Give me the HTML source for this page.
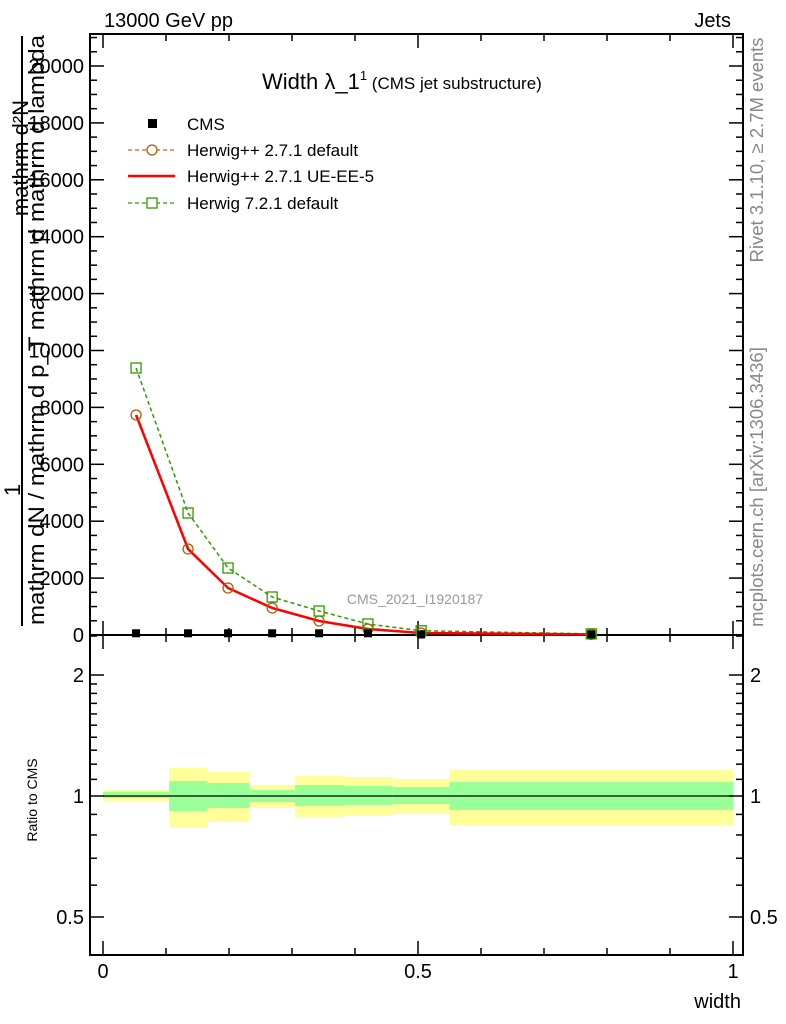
<!DOCTYPE html>
<html><head><meta charset="utf-8"><style>
body{margin:0;background:#fff;}
svg{display:block;font-family:"Liberation Sans",sans-serif;}
</style></head><body>
<svg id="c" width="786" height="1024" viewBox="0 0 786 1024">
<text x="104" y="27" font-size="20">13000 GeV pp</text>
<text x="731" y="27" font-size="20" text-anchor="end">Jets</text>
<text x="262" y="89" font-size="22">Width λ_1<tspan font-size="13" dy="-9">1</tspan><tspan font-size="17" dy="9"> (CMS jet substructure)</tspan></text>
<text x="415" y="604" font-size="14" fill="#999" text-anchor="middle">CMS_2021_I1920187</text>
<text transform="translate(763,150) rotate(-90)" font-size="18.5" fill="#888" text-anchor="middle">Rivet 3.1.10, ≥ 2.7M events</text>
<text transform="translate(763,487) rotate(-90)" font-size="18.5" fill="#888" text-anchor="middle">mcplots.cern.ch [arXiv:1306.3436]</text>
<g font-size="22">
<text transform="translate(28,158) rotate(-90)" text-anchor="middle">mathrm d²N</text>
<text transform="translate(20,490) rotate(-90)" text-anchor="middle">1</text>
<line x1="22" y1="36" x2="22" y2="626" stroke="#000" stroke-width="2"/>
<text transform="translate(44,330) rotate(-90)" text-anchor="middle" textLength="590" lengthAdjust="spacingAndGlyphs">mathrm dN / mathrm d p_T mathrm d mathrm d lambda</text>
</g>
<text transform="translate(37,800) rotate(-90)" font-size="14" text-anchor="middle">Ratio to CMS</text>
<text x="741" y="1008" font-size="20" text-anchor="end">width</text>
<g id="g"></g>
</svg>
<script>
const edges=[0,0.105,0.165,0.232,0.305,0.381,0.46,0.55,1.0];
const cms=[60,60,60,60,60,60,20,20];
const herwigDefault=[7733,3023,1652,949,492,211,70,20];
const herwigUE=[7733,3023,1652,949,492,211,70,20];
const herwig721=[9385,4288,2355,1336,844,387,150,40];
const yellowHi=[1.035,1.174,1.147,1.065,1.121,1.115,1.102,1.16];
const yellowLo=[0.972,0.837,0.862,0.939,0.887,0.892,0.902,0.847];
const greenHi=[1.023,1.09,1.077,1.035,1.065,1.059,1.053,1.083];
const greenLo=[0.989,0.918,0.934,0.966,0.944,0.950,0.955,0.923];
const yTicks=[0,2000,4000,6000,8000,10000,12000,14000,16000,18000,20000];
const rTicks=[0.5,1,2];
const xTicks=[0,0.5,1];

const NS="http://www.w3.org/2000/svg";
const g=document.getElementById('g');
const L=90,R=743,T=34,B=635,RB=955;
const X=v=>103+630*v;
const Y=v=>635-v*0.028450;
const RY=r=>796-121*Math.log2(r);
function mk(t,a,p){const e=document.createElementNS(NS,t);for(const k in a)e.setAttribute(k,a[k]);(p||g).appendChild(e);return e;}
const mids=edges.slice(0,-1).map((e,i)=>(e+edges[i+1])/2);

for(let i=0;i<mids.length;i++){
 const y=mk('rect',{x:X(edges[i]),y:RY(yellowHi[i]),width:X(edges[i+1])-X(edges[i]),height:RY(yellowLo[i])-RY(yellowHi[i]),fill:'#ffff99'});
 
 
 const gr=mk('rect',{x:X(edges[i]),y:RY(greenHi[i]),width:X(edges[i+1])-X(edges[i]),height:RY(greenLo[i])-RY(greenHi[i]),fill:'#99ff99'});
 
 
}
const rl=mk('line',{x1:X(edges[0]),x2:X(edges[edges.length-1]),y1:RY(1),y2:RY(1),stroke:'#000','stroke-width':1.2});



mk('rect',{x:L,y:T,width:R-L,height:B-T,fill:'none',stroke:'#000','stroke-width':2});
mk('rect',{x:L,y:B,width:R-L,height:RB-B,fill:'none',stroke:'#000','stroke-width':2});

for(let v=0;v<=21000;v+=500){const y=Y(v);if(y<T)break;const len=v%2000===0?14:7;
 mk('line',{x1:L,x2:L+len,y1:y,y2:y,stroke:'#000','stroke-width':1.5});
 mk('line',{x1:R,x2:R-len,y1:y,y2:y,stroke:'#000','stroke-width':1.5});}
yTicks.forEach(v=>{const t=mk('text',{x:84,y:Y(v)+7,'font-size':20,'text-anchor':'end'});t.textContent=v;
 
 });
[0.4,0.5,0.6,0.7,0.8,0.9,1,1.1,1.2,1.3,1.4,1.5,1.6,1.7,1.8,1.9,2,2.5].forEach(r=>{const y=RY(r);if(y<B||y>RB)return;const len=rTicks.includes(r)?14:7;
 mk('line',{x1:L,x2:L+len,y1:y,y2:y,stroke:'#000','stroke-width':1.5});
 mk('line',{x1:R,x2:R-len,y1:y,y2:y,stroke:'#000','stroke-width':1.5});});
rTicks.forEach(r=>{const t=mk('text',{x:84,y:RY(r)+7,'font-size':20,'text-anchor':'end'});t.textContent=r;
 
 
 const t2=mk('text',{x:750,y:RY(r)+7,'font-size':20});t2.textContent=r;
 
 });
for(let k=0;k<=10;k++){const v=k/10;const x=X(v);const len=k%5===0?14:7;
 [[B,-1],[T,1],[B,1],[RB,-1]].forEach(([y0,d])=>mk('line',{x1:x,x2:x,y1:y0,y2:y0+d*len,stroke:'#000','stroke-width':1.5}));}
xTicks.forEach(v=>{const t=mk('text',{x:X(v),y:978,'font-size':20,'text-anchor':'middle'});t.textContent=v;
 
 });

function line(vals,attrs,name){const p=mk('polyline',Object.assign({points:vals.map((v,i)=>X(mids[i])+','+Y(v)).join(' '),fill:'none'},attrs));
 
 }
line(herwig721,{stroke:'#339900','stroke-width':1.5,'stroke-dasharray':'4,3'},'herwig721-line');
line(herwigDefault,{stroke:'#cc6600','stroke-width':1.3,'stroke-dasharray':'4,3'},'herwigpp-default-line');
line(herwigUE,{stroke:'#ff0000','stroke-width':2.5},'herwigpp-ueee5-line');
herwigDefault.forEach((v,i)=>{const c=mk('circle',{cx:X(mids[i]),cy:Y(v),r:5,fill:'none',stroke:'#b35900','stroke-width':1.3});
 
 });
herwig721.forEach((v,i)=>{const s=mk('rect',{x:X(mids[i])-5,y:Y(v)-5,width:10,height:10,fill:'none',stroke:'#339900','stroke-width':1.3});
 
 });
cms.forEach((v,i)=>{const s=mk('rect',{x:X(mids[i])-4,y:Y(v)-4,width:8,height:8,fill:'#000'});
 
 });

const leg=mk('g',{});


mk('rect',{x:148,y:119,width:9,height:9,fill:'#000'},leg);
mk('line',{x1:128,x2:175,y1:150,y2:150,stroke:'#cc6600','stroke-width':1.3,'stroke-dasharray':'4,3'},leg);
mk('circle',{cx:152,cy:150,r:5,fill:'#fff',stroke:'#b35900','stroke-width':1.3},leg);
mk('line',{x1:128,x2:175,y1:176,y2:176,stroke:'#ff0000','stroke-width':2.5},leg);
mk('line',{x1:128,x2:175,y1:203,y2:203,stroke:'#339900','stroke-width':1.3,'stroke-dasharray':'4,3'},leg);
mk('rect',{x:147,y:198,width:10,height:10,fill:'#fff',stroke:'#339900','stroke-width':1.3},leg);
[['CMS',130],['Herwig++ 2.7.1 default',156],['Herwig++ 2.7.1 UE-EE-5',182],['Herwig 7.2.1 default',209]].forEach(([s,y])=>{
 const t=mk('text',{x:187,y:y,'font-size':17},leg);t.textContent=s;
 
 });
</script>
</body></html>
